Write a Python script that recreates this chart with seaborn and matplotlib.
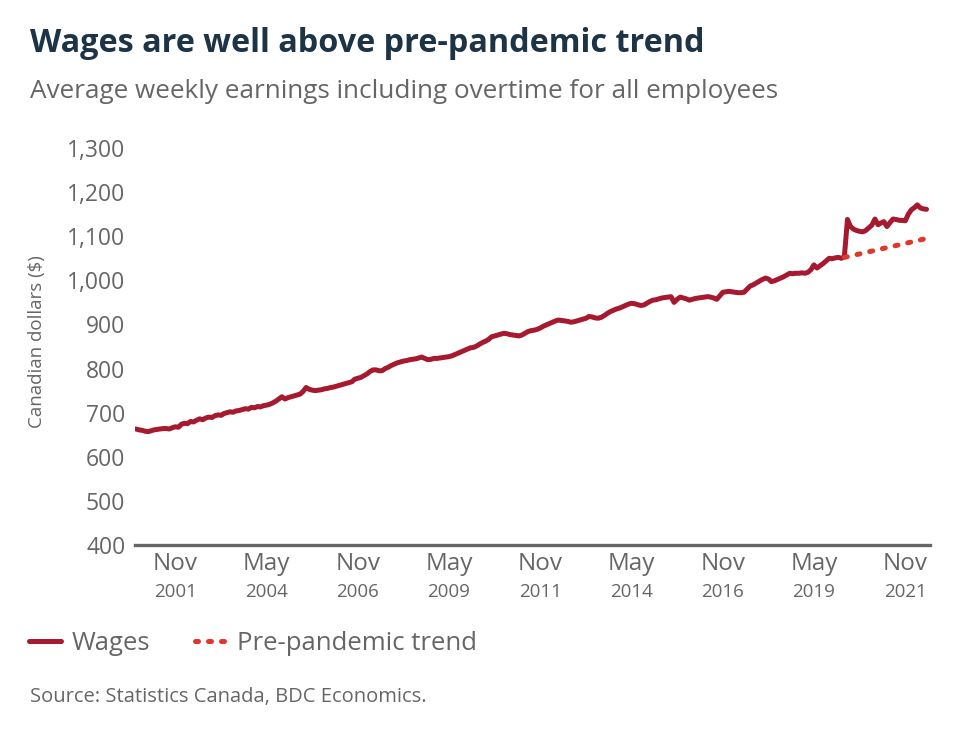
import pandas as pd
import seaborn as sns
import matplotlib.pyplot as plt
import matplotlib.transforms as mtransforms

# monthly average weekly earnings, Oct 2000 - Jun 2022
wages_2000 = [663, 661, 660]
wages_by_year = {
    2001: [658, 657, 659, 661, 662, 663, 664, 664, 663, 666, 668, 667],
    2002: [674, 676, 675, 680, 679, 683, 686, 684, 688, 690, 689, 693],
    2003: [695, 694, 698, 700, 702, 701, 704, 705, 707, 709, 708, 712],
    2004: [711, 714, 713, 716, 717, 719, 722, 726, 731, 736, 731, 734],
    2005: [736, 738, 740, 742, 748, 757, 753, 751, 750, 751, 752, 754],
    2006: [755, 757, 758, 760, 762, 764, 766, 768, 770, 776, 778, 780],
    2007: [784, 788, 793, 797, 797, 795, 795, 800, 803, 807, 810, 813],
    2008: [815, 817, 818, 820, 821, 822, 824, 826, 823, 820, 821, 823],
    2009: [823, 824, 825, 826, 827, 829, 832, 835, 838, 841, 844, 847],
    2010: [848, 851, 855, 859, 862, 866, 872, 874, 876, 878, 880, 879],
    2011: [877, 876, 875, 874, 876, 880, 884, 886, 887, 889, 892, 896],
    2012: [899, 902, 905, 908, 910, 909, 908, 907, 905, 906, 908, 910],
    2013: [912, 914, 918, 917, 915, 914, 916, 920, 925, 929, 932, 935],
    2014: [937, 940, 943, 946, 948, 947, 945, 943, 944, 948, 952, 955],
    2015: [956, 958, 960, 961, 962, 963, 950, 957, 962, 960, 958, 955],
    2016: [957, 959, 960, 961, 962, 963, 962, 960, 957, 965, 973, 974],
    2017: [975, 974, 973, 972, 972, 973, 980, 987, 990, 994, 998, 1002],
    2018: [1005, 1003, 997, 999, 1002, 1005, 1008, 1012, 1016, 1015, 1016, 1016],
    2019: [1017, 1016, 1018, 1024, 1035, 1028, 1033, 1038, 1044, 1050, 1049, 1051],
    2020: [1052, 1050, 1054, 1138, 1122, 1116, 1113, 1111, 1110, 1113, 1119, 1125],
    2021: [1139, 1126, 1130, 1133, 1122, 1131, 1139, 1138, 1136, 1136, 1135, 1150],
}
wages_2022 = [1160, 1165, 1171, 1164, 1162, 1161]

trend_dates = ["2020-03-01", "2021-03-01", "2022-03-01", "2022-06-01"]
trend_values = [1052, 1071, 1090, 1095]

tick_dates = ["2001-11-01", "2004-05-01", "2006-11-01", "2009-05-01", "2011-11-01",
              "2014-05-01", "2016-11-01", "2019-05-01", "2021-11-01"]
tick_months = ["Nov", "May", "Nov", "May", "Nov", "May", "Nov", "May", "Nov"]
tick_years = ["2001", "2004", "2006", "2009", "2011", "2014", "2016", "2019", "2021"]

wage_values = wages_2000 + [v for y in sorted(wages_by_year) for v in wages_by_year[y]] + wages_2022
wages = pd.DataFrame({
    "date": pd.date_range("2000-10-01", periods=len(wage_values), freq="MS"),
    "value": wage_values,
})
trend = pd.DataFrame({"date": pd.to_datetime(trend_dates), "value": trend_values})

sns.set_style("white")
plt.rcParams["font.family"] = ["Open Sans", "DejaVu Sans"]

gray = "#666666"
wage_color = "#a6192e"
trend_color = "#e0372a"

fig = plt.figure(figsize=(9.6, 7.38), dpi=100)
ax = fig.add_axes([135 / 960, 1 - 545 / 738, (930 - 135) / 960, 397 / 738])

sns.lineplot(data=wages, x="date", y="value", ax=ax, color=wage_color,
             linewidth=3.6, label="Wages", solid_capstyle="round", solid_joinstyle="round")
sns.lineplot(data=trend, x="date", y="value", ax=ax, color=trend_color,
             linewidth=3.6, label="Pre-pandemic trend", linestyle=(0, (0.6, 2.0)),
             dash_capstyle="round")

ax.set_ylim(400, 1300)
ax.set_xlim(pd.Timestamp("2000-09-22"), pd.Timestamp("2022-07-06"))
ax.set_yticks(range(400, 1301, 100))
ax.set_yticklabels([f"{v:,}" for v in range(400, 1301, 100)])
ax.set_xticks(pd.to_datetime(tick_dates))
ax.set_xticklabels(tick_months)
ax.set_xlabel("")
ax.set_ylabel("")

for side in ["top", "right", "left"]:
    ax.spines[side].set_visible(False)
ax.spines["bottom"].set_color(gray)
ax.spines["bottom"].set_linewidth(2.4)

ax.tick_params(axis="y", length=0, pad=7, labelsize=16.5, labelcolor=gray)
ax.tick_params(axis="x", direction="in", length=5, width=1.2, color=gray,
               pad=5, labelsize=17.5, labelcolor=gray)

trans = mtransforms.blended_transform_factory(ax.transData, ax.transAxes)
for d, yr in zip(pd.to_datetime(tick_dates), tick_years):
    ax.text(d, -47 / 397, yr, transform=trans, ha="center", va="center",
            fontsize=13.5, color=gray)

handles, labels = ax.get_legend_handles_labels()
ax.get_legend().remove()
fig.legend(handles, labels, loc="center left", bbox_to_anchor=(29 / 960, 1 - 643 / 738),
           ncol=2, frameon=False, fontsize=18.5, handlelength=1.25, handletextpad=0.4,
           columnspacing=1.75, borderpad=0, borderaxespad=0, labelcolor=gray)

fig.text(30 / 960, 1 - 44 / 738, "Wages are well above pre-pandemic trend",
         fontsize=23.3, fontweight="bold", color="#1d3447", va="center")
fig.text(30 / 960, 1 - 92 / 738, "Average weekly earnings including overtime for all employees",
         fontsize=18.8, color=gray, va="center")
fig.text(37 / 960, 1 - 342 / 738, "Canadian dollars ($)", rotation=90,
         fontsize=13.5, color=gray, va="center", ha="center")
fig.text(30 / 960, 1 - 697 / 738, "Source: Statistics Canada, BDC Economics.",
         fontsize=14.5, color=gray, va="center")

fig.savefig("out.png", dpi=100)
